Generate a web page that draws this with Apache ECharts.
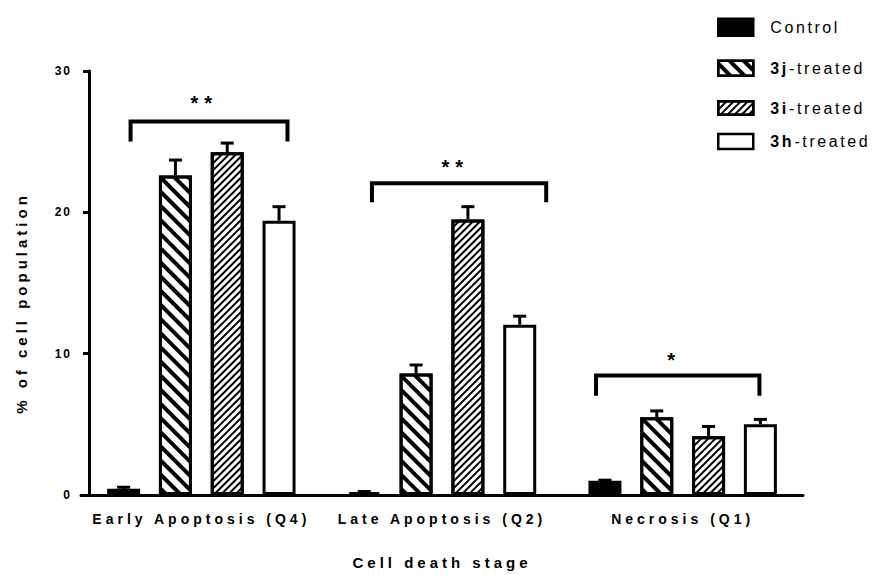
<!DOCTYPE html>
<html><head><meta charset="utf-8">
<style>
html,body{margin:0;padding:0;background:#fff;}
#chart{width:875px;height:575px;}
#chart text[style*="12px"]{letter-spacing:2px;}
#chart text[style*="14px"]{letter-spacing:4px;}
#chart text[style*="15px"]{letter-spacing:4px;}
#chart text[style*="16px"]{letter-spacing:2.6px;}
#chart text[style*="20px"]{letter-spacing:6px;}
</style>
<script src="https://cdn.jsdelivr.net/npm/echarts@6/dist/echarts.min.js"></script>
</head><body><div id="chart"></div>
<script>
// ---- data ----
const categories = ['Early Apoptosis (Q4)', 'Late Apoptosis (Q2)', 'Necrosis (Q1)'];
const seriesNames = ['Control', '3j-treated', '3i-treated', '3h-treated'];
const controlValues = [0.45, 0.2, 1.0];
const controlErrors = [0.1, 0.05, 0.05];
const j3Values = [22.6, 8.6, 5.5];
const j3Errors = [1.1, 0.6, 0.45];
const i3Values = [24.25, 19.5, 4.15];
const i3Errors = [0.65, 0.9, 0.7];
const h3Values = [19.4, 12.05, 5.0];
const h3Errors = [1.0, 0.6, 0.35];
const yMin = 0, yMax = 30, yInterval = 10;
const significance = ['**', '**', '*'];
const bracketLevels = [26.43, 22.06, 8.45];
const bracketLegEnds = [25.02, 20.72, 7.02];
const bracketStarts = [-0.294, -0.291, -0.36];
const bracketEnds = [0.358, 0.433, 0.319];
const starLevels = [28.06, 23.56, 9.86];
const starOffsets = [0.012, 0.055, -0.035];

// ---- styling ----
const FONT = 'Liberation Sans';
const BAR_WIDTH = 33;
const BAR_GAP = 0.57;
const allValues = [controlValues, j3Values, i3Values, h3Values];
const allErrors = [controlErrors, j3Errors, i3Errors, h3Errors];
const fills = [
  { color: '#000' },
  { color: '#fff', decal: { symbol: 'rect', symbolSize: 1, dashArrayX: [1, 0], dashArrayY: [3.5, 5.2], rotation: Math.PI / 4, color: '#000', backgroundColor: '#fff' } },
  { color: '#fff', decal: { symbol: 'rect', symbolSize: 1, dashArrayX: [1, 0], dashArrayY: [1.1, 2.6], rotation: -Math.PI / 4, color: '#000', backgroundColor: '#fff' } },
  { color: '#fff' }
];

const barSeries = seriesNames.map((name, i) => ({
  name: name,
  type: 'bar',
  barWidth: BAR_WIDTH,
  barGap: (BAR_GAP * 100) + '%',
  data: allValues[i],
  itemStyle: Object.assign({ borderColor: '#000', borderWidth: 3 }, fills[i]),
  z: 2
}));

const errData = [];
allValues.forEach((vals, s) => vals.forEach((v, c) => errData.push([c, s, v, allErrors[s][c]])));

const bracketData = bracketLevels.map((lv, i) => [i, lv, bracketLegEnds[i], bracketStarts[i], bracketEnds[i], starLevels[i], starOffsets[i]]);

const legendTops = [18, 59.5, 100, 132.7];
const legendHeights = [17, 15, 13.5, 15];
const legends = seriesNames.map((name, i) => ({
  data: [name],
  left: 717,
  top: legendTops[i] + (16 - Math.max(16, legendHeights[i])) / 2,
  orient: 'vertical',
  padding: 0,
  icon: 'rect',
  itemWidth: 35,
  itemHeight: legendHeights[i],
  selectedMode: false,
  itemStyle: { borderColor: '#000', borderWidth: 2.5 },
  formatter: function (n) {
    const m = n.match(/^(3[a-z])(-.*)$/);
    return m ? '{b|' + m[1] + '}' + m[2] : n;
  },
  textStyle: {
    fontFamily: FONT, fontSize: 16, color: '#000', padding: [0, 0, 0, 12],
    rich: { b: { fontFamily: FONT, fontSize: 16, fontWeight: 'bold', color: '#000', padding: [0, 5.5, 0, 0] } }
  }
}));

const chart = echarts.init(document.getElementById('chart'), null, { renderer: 'svg' });
chart.setOption({
  animation: false,
  backgroundColor: '#fff',
  textStyle: { fontFamily: FONT },
  legend: legends,
  grid: { left: 81, right: 72, top: 71, bottom: 78, containLabel: false },
  xAxis: {
    type: 'category',
    data: categories,
    name: 'Cell death stage',
    nameLocation: 'middle',
    nameGap: 60,
    nameTextStyle: { fontFamily: FONT, fontSize: 15, fontWeight: 'bold', color: '#000' },
    axisLine: { lineStyle: { color: '#000', width: 3 } },
    axisTick: { alignWithLabel: true, length: 8, lineStyle: { color: '#000', width: 3 } },
    axisLabel: { fontFamily: FONT, fontSize: 14, fontWeight: 'bold', color: '#000', margin: 17 }
  },
  yAxis: {
    type: 'value',
    min: yMin, max: yMax, interval: yInterval,
    offset: -8,
    name: '% of cell population',
    nameLocation: 'middle',
    nameGap: 60,
    nameTextStyle: { fontFamily: FONT, fontSize: 15, fontWeight: 'bold', color: '#000', padding: [0, 40, 0, 0] },
    splitLine: { show: false },
    axisLine: { show: true, lineStyle: { color: '#000', width: 3 } },
    axisTick: { show: true, length: 6, lineStyle: { color: '#000', width: 3 } },
    axisLabel: { fontFamily: FONT, fontSize: 12, fontWeight: 'bold', color: '#000', margin: 17 }
  },
  series: barSeries.concat([
    {
      type: 'custom',
      name: 'errors',
      data: errData,
      encode: { x: 0, y: 2 },
      z: 3,
      silent: true,
      renderItem: function (params, api) {
        const cat = api.value(0), s = api.value(1), v = api.value(2), e = api.value(3);
        const base = api.coord([cat, v]);
        const top = api.coord([cat, v + e]);
        const x = base[0] + (s - 1.5) * BAR_WIDTH * (1 + BAR_GAP);
        const cap = 6.5;
        return {
          type: 'group', children: [
            { type: 'line', shape: { x1: x, y1: base[1], x2: x, y2: top[1] }, style: { stroke: '#000', lineWidth: 3 } },
            { type: 'line', shape: { x1: x - cap, y1: top[1], x2: x + cap, y2: top[1] }, style: { stroke: '#000', lineWidth: 3 } }
          ]
        };
      }
    },
    {
      type: 'custom',
      name: 'brackets',
      data: bracketData,
      encode: { x: 0, y: 1 },
      z: 4,
      silent: true,
      renderItem: function (params, api) {
        const cat = api.value(0);
        const lv = api.coord([cat, api.value(1)]);
        const leg = api.coord([cat, api.value(2)]);
        const bw = api.size([1, 0])[0];
        const x1 = lv[0] + api.value(3) * bw;
        const x2 = lv[0] + api.value(4) * bw;
        const st = api.coord([cat, api.value(5)]);
        const sx = st[0] + api.value(6) * bw;
        return {
          type: 'group', children: [
            { type: 'polyline', shape: { points: [[x1, leg[1]], [x1, lv[1]], [x2, lv[1]], [x2, leg[1]]] }, style: { stroke: '#000', lineWidth: 4, fill: null, lineJoin: 'miter' } },
            { type: 'text', style: { text: significance[params.dataIndex], x: sx, y: st[1] + 4.6, font: 'bold 20px "' + FONT + '"', align: 'center', verticalAlign: 'middle', fill: '#000' } }
          ]
        };
      }
    }
  ])
});
</script>
</body></html>
